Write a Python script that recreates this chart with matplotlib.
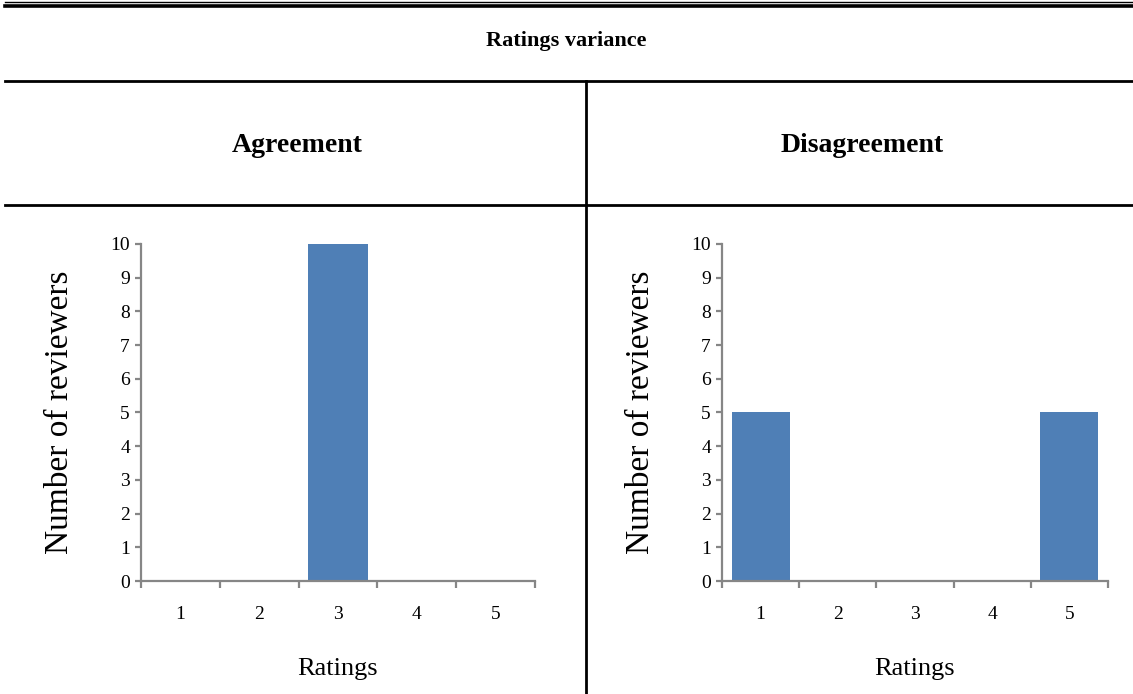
import matplotlib.pyplot as plt
from matplotlib.lines import Line2D

plt.rcParams['font.family'] = ['Liberation Serif', 'DejaVu Serif']

# reviewer counts per rating (1..5)
ratings = [1, 2, 3, 4, 5]
agreement_counts = [0, 0, 10, 0, 0]
disagreement_counts = [5, 0, 0, 0, 5]

table_title = "Ratings variance"
panel_titles = ["Agreement", "Disagreement"]
x_label = "Ratings"
y_label = "Number of reviewers"

W, H = 1133, 694
fig = plt.figure(figsize=(W / 100, H / 100), dpi=100)


def px(x, y):
    # pixel (from top-left) -> figure fraction
    return x / W, 1 - y / H


def hline(y, lw, x0=5, x1=W):
    (a, b), (c, _) = px(x0, y), px(x1, y)
    fig.add_artist(Line2D([a, c], [b, b], color='black', lw=lw, transform=fig.transFigure))


# table rules
hline(1.5, 1.0)
hline(6, 2.6)
hline(81, 2.0)
hline(205, 2.0)
vx, vy0 = px(586, 81)
fig.add_artist(Line2D([vx, vx], [vy0, 0], color='black', lw=2.0, transform=fig.transFigure))

# headers
tx, ty = px(566, 41)
fig.text(tx, ty, table_title, ha='center', va='center', fontsize=16, fontweight='bold')
for cx, title in zip([297, 862], panel_titles):
    hx, hy = px(cx, 145)
    fig.text(hx, hy, title, ha='center', va='center', fontsize=20, fontweight='bold')

axis_grey = '#868686'
bar_blue = '#4F7FB6'


def draw_panel(x0, x1, counts, ylabel_x):
    l, t = px(x0, 244)
    r, b = px(x1, 581)
    ax = fig.add_axes([l, b, r - l, t - b])
    ax.bar(ratings, counts, width=0.75, color=bar_blue, zorder=2)
    ax.set_xlim(0.5, 5.5)
    ax.set_ylim(0, 10)
    for s in ['top', 'right']:
        ax.spines[s].set_visible(False)
    for s in ['left', 'bottom']:
        ax.spines[s].set_color(axis_grey)
        ax.spines[s].set_linewidth(1.6)
        ax.spines[s].set_zorder(3)
    ax.set_yticks(range(0, 11))
    ax.tick_params(axis='y', direction='out', length=4, width=1.6, color=axis_grey,
                   labelsize=14, pad=4)
    # tick marks sit between categories, labels at centres
    ax.set_xticks([r_ + 0.5 for r_ in [0] + ratings])
    ax.set_xticklabels([])
    ax.set_xticks(ratings, minor=True)
    ax.set_xticklabels([str(r_) for r_ in ratings], minor=True)
    ax.tick_params(axis='x', which='major', direction='out', length=5, width=1.6, color=axis_grey)
    ax.tick_params(axis='x', which='minor', length=0, labelsize=14, pad=18)
    ax.set_xlabel(x_label, fontsize=19, labelpad=25)
    ax.set_ylabel(y_label, fontsize=24)
    lx, _ = px(ylabel_x, 0)
    _, ly = px(0, 412)
    ax.yaxis.set_label_coords(lx, ly, transform=fig.transFigure)
    ax.yaxis.label.set_verticalalignment('center')
    return ax


draw_panel(141, 535, agreement_counts, 60)
draw_panel(722, 1108, disagreement_counts, 641)

fig.savefig('out.png', dpi=100)
